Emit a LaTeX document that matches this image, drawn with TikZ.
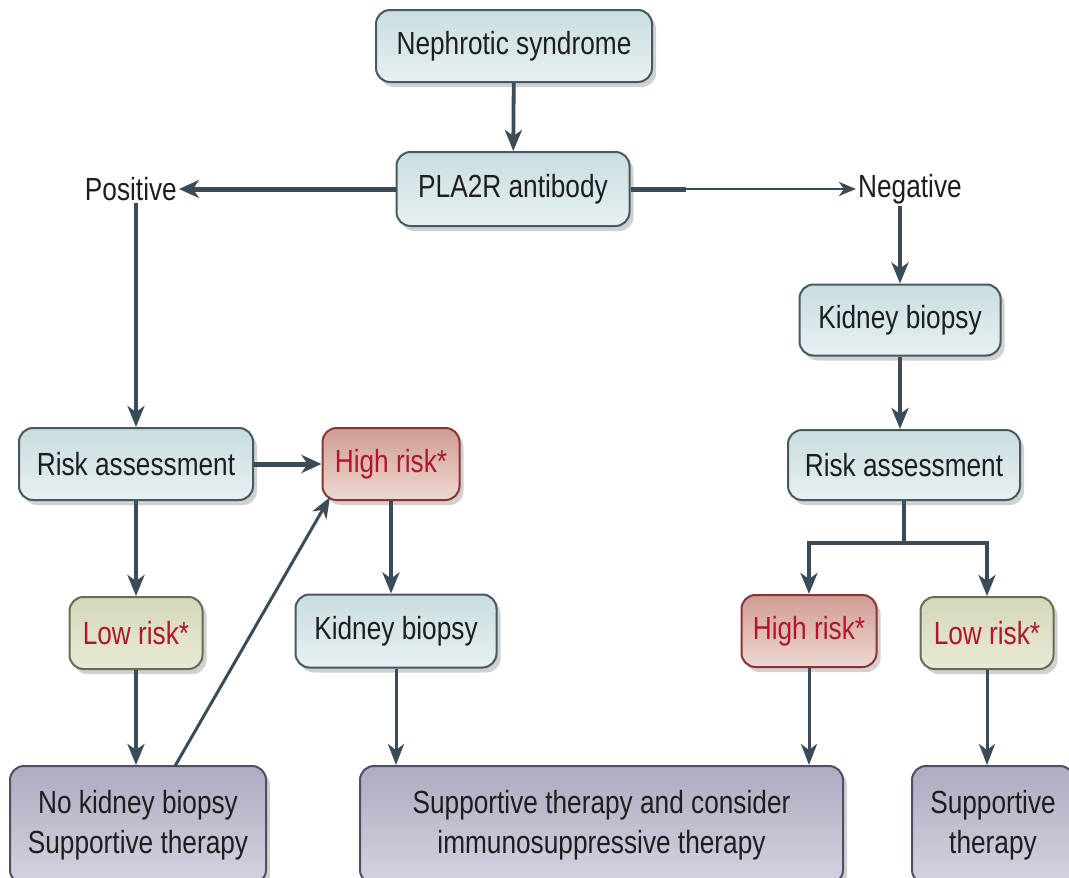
\documentclass[tikz,border=0pt]{standalone}
\usepackage{fontspec}
\setmainfont{Liberation Sans}[FakeStretch=0.82]
\usetikzlibrary{arrows.meta,shadows}
\definecolor{lnc}{HTML}{3B4C58}
\definecolor{txt}{HTML}{1E1E1E}
\definecolor{redt}{HTML}{B0182A}
\definecolor{bluetop}{HTML}{C9DDE0}
\definecolor{bluebot}{HTML}{E8F1F2}
\definecolor{blueln}{HTML}{465862}
\definecolor{redtop}{HTML}{D09C92}
\definecolor{redbot}{HTML}{EED9D3}
\definecolor{redln}{HTML}{8A3434}
\definecolor{grntop}{HTML}{D5D7BA}
\definecolor{grnbot}{HTML}{E9EAD6}
\definecolor{grnln}{HTML}{6A6B52}
\definecolor{purtop}{HTML}{ACACC2}
\definecolor{purbot}{HTML}{D4D4E0}
\definecolor{purln}{HTML}{4E4E68}
\tikzset{
  basebox/.style={rounded corners=14pt, line width=2pt, inner sep=0pt, align=center,
    font=\fontsize{32}{40}\selectfont, text=txt,
    drop shadow={shadow xshift=4pt, shadow yshift=-5pt, opacity=0.3, fill=black!60}},
  bluebox/.style={basebox, draw=blueln, top color=bluetop, bottom color=bluebot},
  redbox/.style={basebox, draw=redln, top color=redtop, bottom color=redbot, text=redt},
  grnbox/.style={basebox, draw=grnln, top color=grntop, bottom color=grnbot, text=redt},
  purbox/.style={basebox, draw=purln, top color=purtop, bottom color=purbot},
  lbl/.style={inner sep=2pt, font=\fontsize{32}{40}\selectfont, text=txt},
  arr/.style={draw=lnc, line width=3.8pt, -{Stealth[length=21pt,width=17pt,inset=6pt]}},
  thinarr/.style={draw=lnc, line width=3pt, -{Stealth[length=21pt,width=16pt,inset=6pt]}},
  finearr/.style={draw=lnc, line width=2.5pt, -{Stealth[length=17pt,width=14pt,inset=5pt]}},
  thickarr/.style={draw=lnc, line width=5pt, -{Stealth[length=20pt,width=18pt,inset=6pt]}},
  ln/.style={draw=lnc, line width=3.8pt},
}
\begin{document}
\begin{tikzpicture}[x=1pt,y=-1pt]
\useasboundingbox (0,0) rectangle (1069,878);
% nodes
\node[bluebox, minimum width=276pt, minimum height=72pt] (ns) at (514,46) {Nephrotic syndrome};
\node[bluebox, minimum width=233pt, minimum height=74pt] (pla) at (513,189) {PLA2R antibody};
\node[lbl, anchor=east] (pos) at (179,189) {Positive};
\node[lbl, anchor=west] (neg) at (856,189) {Negative};
\node[bluebox, minimum width=201pt, minimum height=71pt] (kb1) at (900,320) {Kidney biopsy};
\node[bluebox, minimum width=232pt, minimum height=70pt] (ra2) at (904,465) {Risk assessment};
\node[redbox, minimum width=135pt, minimum height=72pt] (hr2) at (809,631) {High risk*};
\node[grnbox, minimum width=133pt, minimum height=72pt] (lr2) at (987,633) {Low risk*};
\node[bluebox, minimum width=234pt, minimum height=72pt] (ra1) at (136,464) {Risk assessment};
\node[redbox, minimum width=137pt, minimum height=72pt] (hr1) at (391,464) {High risk*};
\node[grnbox, minimum width=133pt, minimum height=72pt] (lr1) at (136,633) {Low risk*};
\node[bluebox, minimum width=201pt, minimum height=73pt] (kb2) at (396,631) {Kidney biopsy};
\node[purbox, minimum width=256pt, minimum height=118pt] (nk) at (138,825) {No kidney biopsy\\Supportive therapy};
\node[purbox, minimum width=483pt, minimum height=118pt] (sup) at (601.5,825) {Supportive therapy and consider\\immunosuppressive therapy};
\node[purbox, minimum width=162pt, minimum height=118pt] (st) at (993,825) {Supportive\\therapy};
% helper coordinates
\coordinate (mid) at (686,189);
\coordinate (dstart) at (175,766);
\coordinate (dend) at (330,497);
% connectors
\draw[arr] (ns) -- (pla);
\draw[thickarr] (pla.west) -- (pos.east);
\draw[draw=lnc, line width=5pt] (pla.east) -- (mid);
\draw[finearr] (mid) -- (neg.west);
\draw[arr] (ra1.north |- pos.south) -- (ra1.north);
\draw[arr] (kb1.north |- neg.south) -- (kb1.north);
\draw[arr] (kb1) -- (kb1.south |- ra2.north);
\draw[ln] (ra2.south) -- ++(0,42) coordinate (br);
\draw[arr] (br) -| (hr2.north);
\draw[arr] (br) -| (lr2.north);
\draw[thickarr] (ra1) -- (hr1);
\draw[arr] (ra1) -- (lr1);
\draw[arr] (lr1) -- (lr1.south |- nk.north);
\draw[thinarr] (dstart) -- (dend);
\draw[arr] (hr1.south) -- (hr1.south |- kb2.north);
\draw[thinarr] (kb2.south) -- (kb2.south |- sup.north);
\draw[thinarr] (hr2.south) -- (hr2.south |- sup.north);
\draw[thinarr] (lr2.south) -- (lr2.south |- st.north);
\end{tikzpicture}
\end{document}
